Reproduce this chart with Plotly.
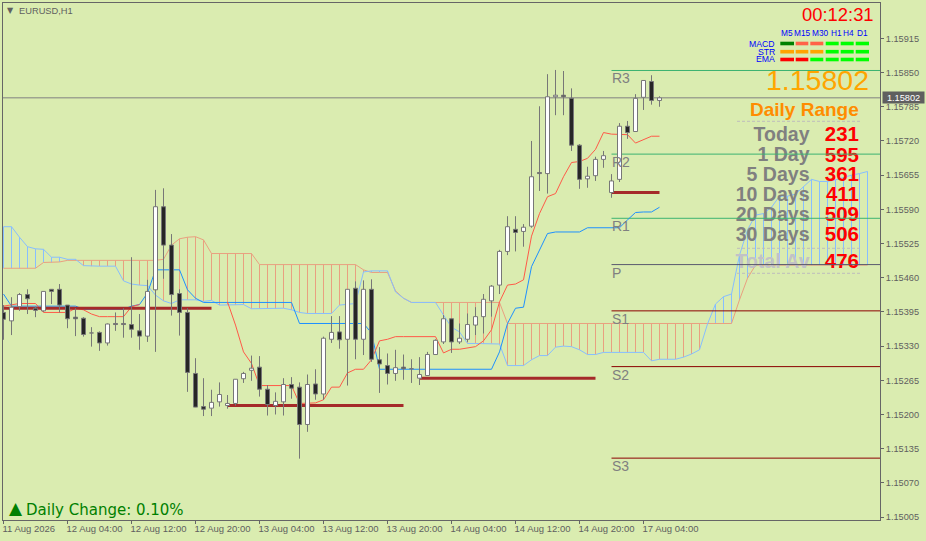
import plotly.graph_objects as go

W, H = 926, 541
ML, MR, MT, MB = 3, 46, 3, 21
BG = "#DAECB0"
AXC = "#666666"
SCALE = 100000.0

open_pts = [115394,115378,115405,115428,115402,115397,115438,115438,115408,115385,115383,115355,115356,115336,115373,115373,115371,115359,115349,115437,115595,115522,115430,115394,115278,115215,115212,115224,115217,115221,115268,115284,115290,115248,115217,115224,115257,115252,115181,115258,115239,115343,115357,115343,115440,115343,115438,115304,115293,115278,115290,115287,115269,115274,115314,115338,115382,115338,115343,115370,115386,115416,115446,115510,115552,115548,115558,115660,115658,115804,115807,115801,115712,115648,115654,115685,115622,115647,115748,115738,115803,115833,115797]
high_pts = [115408,115423,115431,115438,115405,115434,115438,115448,115408,115402,115385,115366,115358,115373,115394,115402,115499,115391,115456,115627,115630,115543,115438,115402,115307,115269,115247,115261,115237,115267,115281,115312,115311,115256,115242,115269,115271,115261,115276,115286,115348,115387,115387,115438,115453,115455,115457,115328,115316,115323,115314,115305,115309,115319,115343,115389,115382,115373,115392,115404,115429,115446,115513,115577,115577,115562,115720,115786,115847,115855,115853,115820,115714,115671,115690,115701,115657,115754,115758,115809,115835,115845,115805]
low_pts = [115342,115351,115397,115391,115385,115395,115410,115394,115364,115349,115348,115329,115321,115331,115359,115346,115346,115323,115338,115319,115458,115388,115350,115243,115214,115197,115197,115215,115211,115217,115260,115264,115234,115198,115200,115198,115230,115116,115167,115228,115228,115336,115325,115255,115305,115313,115300,115241,115257,115264,115266,115260,115256,115274,115314,115334,115317,115334,115338,115351,115354,115386,115429,115503,115510,115519,115555,115625,115620,115769,115769,115701,115629,115631,115644,115669,115612,115642,115724,115738,115779,115789,115785]
close_pts = [115381,115404,115428,115420,115398,115434,115434,115408,115382,115382,115352,115354,115336,115372,115371,115371,115362,115349,115434,115595,115522,115428,115394,115280,115214,115210,115223,115238,115221,115267,115278,115288,115248,115219,115225,115257,115250,115181,115257,115239,115345,115356,115342,115438,115343,115438,115305,115296,115278,115289,115287,115286,115276,115314,115341,115382,115338,115345,115371,115386,115419,115444,115510,115557,115546,115556,115652,115658,115804,115807,115804,115712,115647,115653,115685,115692,115644,115748,115736,115801,115835,115797,115802]

tenkan_pts = [115406,115408,115411,115411,115411,115394,115394,115394,115394,115402,115399,115391,115386,115386,115386,115386,115405,115409,
              None,None,None,None,None,None,None,None,None,None,
              115414,115370,115319,115297,115255,115255,115255,115255,115255,115221,115222,115222,115228,115252,115252,115279,115286,115286,115304,115340,115343,115348,115348,115348,115348,115348,115348,115317,115324,115324,115326,115329,115340,115361,115414,115446,115448,115456,115539,115582,115614,115620,115652,115679,115681,115687,115704,115736,115733,115732,115732,115716,115723,115729,115729]
kijun_pts = [115429,115406,115406,115406,115406,115406,115406,115406,115406,115406,115400,115400,115400,115400,115400,115400,115406,115409,115431,115475,115475,115475,115475,115437,115421,115413,115413,115413,115413,115413,115413,115413,115413,115413,115413,115413,115413,115373,115373,115373,115373,115373,115373,115373,115373,115373,115355,115286,115286,115286,115286,115286,115286,115286,115286,115286,115286,115286,115286,115286,115286,115286,115319,115373,115402,115404,115481,115513,115544,115547,115547,115547,115547,115555,115555,115555,115555,115555,115570,115584,115585,115585,115594]
senkou_a_pts = [115478,115478,115478,115478,115478,115489,115489,115490,115493,115493,115493,115493,115493,115493,115493,115493,115493,115493,115493,115493,115495,115522,115534,115537,115538,115532,115506,115506,115506,115506,115506,115506,115485,115485,115485,115485,115485,115485,115485,115485,115485,115485,115485,115485,115485,115475,115470,115470,115470,115435,115421,115413,115413,115413,115413,115413,115413,115413,115413,115413,115413,115413,115413,115373,115373,115373,115373,115373,115373,115373,115373,115373,115373,115373,115373,115373,115373,115373,115373,115373,115373,115373,115373,115373,115373,115373,115373,115373,115373,115373,115373,115373,115418,115459,115484,115484,115484,115484,115484,115484,115484,115484,115484,115484,115484,115484,115484,115484,115484]
senkou_b_pts = [115557,115557,115537,115519,115515,115514,115499,115499,115495,115495,115483,115482,115482,115482,115482,115454,115448,115446,115445,115427,115416,115411,115418,115418,115418,115415,115417,115408,115408,115408,115409,115401,115401,115401,115401,115402,115399,115394,115392,115392,115392,115392,115408,115410,115411,115471,115473,115473,115473,115433,115421,115413,115413,115413,115413,115389,115366,115357,115335,115335,115335,115335,115334,115293,115293,115293,115304,115312,115312,115328,115330,115329,115323,115314,115314,115318,115318,115318,115318,115318,115318,115302,115305,115305,115305,115309,115315,115323,115372,115410,115424,115429,115503,115551,115579,115582,115594,115615,115615,115619,115633,115647,115643,115643,115646,115651,115655,115658,115662]

pivot_names = ["R3", "R2", "R1", "P", "S1", "S2", "S3"]
pivot_pts = [115854, 115695, 115573, 115485, 115397, 115291, 115117]
pivot_colors = ["#3CB371", "#3CB371", "#3CB371", "#5A5A6E", "#8B0000", "#8B0000", "#8B0000"]
PIVOT_FROM_BAR = 76

day_open_pts = [115402, 115217, 115269, 115622]
day_open_from = [0, 28, 52, 76]
day_open_to = [26, 50, 74, 82]

LAST_PRICE = 115802

price_ticks = [115915,115850,115785,115720,115655,115590,115525,115460,115395,115330,115265,115200,115135,115070,115005]
time_tick_bars = [0,8,16,24,32,40,48,56,64,72,80]
time_tick_labels = ["11 Aug 2026","12 Aug 04:00","12 Aug 12:00","12 Aug 20:00","13 Aug 04:00","13 Aug 12:00","13 Aug 20:00","14 Aug 04:00","14 Aug 12:00","14 Aug 20:00","17 Aug 04:00"]

range_names = ["Today", "1 Day", "5 Days", "10 Days", "20 Days", "30 Days", "Total Av"]
range_values = [231, 595, 361, 411, 509, 506, 476]

tf_names = ["M5", "M15", "M30", "H1", "H4", "D1"]
row_names = ["MACD", "STR", "EMA"]
row_colors = [
    ["#008000", "#FF6347", "#FF6347", "#00FF00", "#00FF00", "#00FF00"],
    ["#FFA500", "#FFA500", "#FFA500", "#00FF00", "#00FF00", "#00FF00"],
    ["#FF0000", "#FF0000", "#00FF00", "#00FF00", "#00FF00", "#00FF00"],
]


def p(v):
    return None if v is None else v / SCALE


# pixel helpers, for the on-chart panels only
PW, PH = W - ML - MR, H - MT - MB
XR = [-0.0625, 109.5625]
YR = [1.149994, 1.159823]
def paperx(x):
    return (x - ML) / PW
def papery(y):
    return 1 - (y - MT) / PH
def barx(x):
    return XR[0] + (x - ML) / PW * (XR[1] - XR[0])
def pricey(y):
    return YR[1] - (y - MT) / PH * (YR[1] - YR[0])


n_cloud = len(senkou_a_pts)
cloud_x = list(range(n_cloud))
fig = go.Figure()

# cloud hatching
for upper_is_a, col in ((True, "#E9A080"), (False, "#87BEFF")):
    hx, hy = [], []
    for i in cloud_x:
        a, b = senkou_a_pts[i], senkou_b_pts[i]
        if (a >= b) == upper_is_a:
            hx += [i, i, None]
            hy += [p(a), p(b), None]
    fig.add_trace(go.Scatter(x=hx, y=hy, mode="lines", line=dict(color=col, width=1), hoverinfo="skip", showlegend=False))

fig.add_trace(go.Scatter(x=cloud_x, y=[p(v) for v in senkou_a_pts], mode="lines", line=dict(color="#E9A080", width=1), showlegend=False, name="Senkou A"))
fig.add_trace(go.Scatter(x=cloud_x, y=[p(v) for v in senkou_b_pts], mode="lines", line=dict(color="#87BEFF", width=1), showlegend=False, name="Senkou B"))

# daily range table (under the pivot lines, as in the reference)
label_y = [136.3, 156.5, 176, 196, 216, 236, 263]
label_col = ["#808080"] * 6 + ["#C2C2C6"]
fig.add_trace(go.Scatter(x=[barx(809.5)] * 7, y=[pricey(v) for v in label_y], mode="text", text=range_names,
                         textposition="middle left",
                         textfont=dict(family="Liberation Sans", size=19.5, color=label_col, weight="bold"),
                         hoverinfo="skip", showlegend=False))
fig.add_trace(go.Scatter(x=[barx(859)] * 7, y=[pricey(v) for v in label_y], mode="text", text=[str(v) for v in range_values],
                         textposition="middle left",
                         textfont=dict(family="Liberation Sans", size=20.5, color="#FF0000", weight="bold"),
                         hoverinfo="skip", showlegend=False))

# pivots
for lvl, col in zip(pivot_pts, pivot_colors):
    fig.add_trace(go.Scatter(x=[PIVOT_FROM_BAR, XR[1]], y=[p(lvl), p(lvl)], mode="lines", line=dict(color=col, width=1), hoverinfo="skip", showlegend=False))

# current price line
fig.add_trace(go.Scatter(x=XR, y=[p(LAST_PRICE), p(LAST_PRICE)], mode="lines", line=dict(color="#808080", width=1), hoverinfo="skip", showlegend=False))

# ichimoku fast lines
bars = list(range(len(open_pts)))
fig.add_trace(go.Scatter(x=bars, y=[p(v) for v in kijun_pts], mode="lines", line=dict(color="#1E90FF", width=1), showlegend=False, name="Kijun", connectgaps=False))
fig.add_trace(go.Scatter(x=bars, y=[p(v) for v in tenkan_pts], mode="lines", line=dict(color="#FF5A48", width=1), showlegend=False, name="Tenkan", connectgaps=False))

# daily open segments
for lvl, a, b in zip(day_open_pts, day_open_from, day_open_to):
    fig.add_trace(go.Scatter(x=[a, b], y=[p(lvl), p(lvl)], mode="lines", line=dict(color="#A52A2A", width=3), hoverinfo="skip", showlegend=False))

# candles: scatter traces, so that they sit above the indicator lines
wx, wy = [], []
for i in bars:
    wx += [i, i, None]
    wy += [p(high_pts[i]), p(low_pts[i]), None]
fig.add_trace(go.Scatter(x=wx, y=wy, mode="lines", line=dict(color="#777777", width=1), hoverinfo="skip", showlegend=False, name="Wicks"))
HALF = 0.25
for is_up, fillc in ((True, "#FFFFFF"), (False, "#262626")):
    bx, by = [], []
    for i in bars:
        o, c = open_pts[i], close_pts[i]
        if (c >= o) == is_up:
            bx += [i - HALF, i + HALF, i + HALF, i - HALF, i - HALF, None]
            by += [p(o), p(o), p(c), p(c), p(o), None]
    fig.add_trace(go.Scatter(x=bx, y=by, mode="lines", fill="toself", fillcolor=fillc, line=dict(color="#777777", width=1),
                             hoverinfo="skip", showlegend=False, name="Bull bodies" if is_up else "Bear bodies"))

anns = []
def text(x, y, s, size, color, anchor="left", family="Liberation Sans", weight=None, **kw):
    dx = {"left": -1, "right": 1, "center": 0}[anchor]
    anns.append(dict(xref="paper", yref="paper", x=paperx(x + dx), y=papery(y), text=s, showarrow=False, xanchor=anchor, yanchor="middle",
                     font=dict(family=family, size=size, color=color, weight=weight), borderpad=0, **kw))

text(6.5, 10.2, "▼", 8, "#606060", family="DejaVu Sans")
text(18.5, 10.5, "EURUSD,H1", 9.3, "#606060")
text(873.5, 15, "00:12:31", 18.4, "#FF0000", anchor="right")
tf_centers = [786.7, 802, 820, 836, 848.5, 862]
for name, cx in zip(tf_names, tf_centers):
    text(cx, 33, name, 8.3, "#0000FF", anchor="center")
row_y = [43.5, 51.7, 59.5]
cell_x0 = [780.3, 795.7, 810.3, 825.7, 840.7, 855.7]
cell_x1 = [794, 808.3, 823.3, 838.7, 853.7, 869]
shapes = []
for name, yy, cols in zip(row_names, row_y, row_colors):
    text(775, yy, name, 8.7, "#0000FF", anchor="right")
    for col, a, b in zip(cols, cell_x0, cell_x1):
        shapes.append(dict(type="rect", xref="paper", yref="paper", x0=paperx(a), x1=paperx(b), y0=papery(yy - 1.8), y1=papery(yy + 1.8),
                           fillcolor=col, line=dict(width=0)))
text(869, 80, f"{LAST_PRICE / SCALE:.5f}", 28.5, "#FFA500", anchor="right")
text(859, 109, "Daily Range", 19, "#FF8C00", anchor="right", weight="bold")
for yy in (121.3, 248.3, 273.3):
    shapes.append(dict(type="line", xref="paper", yref="paper", x0=paperx(737), x1=paperx(860), y0=papery(yy), y1=papery(yy),
                       line=dict(color="#BDBDBD", width=1, dash="3px,2px")))

for name, lvl in zip(pivot_names, pivot_pts):
    anns.append(dict(xref="x", yref="y", x=PIVOT_FROM_BAR, y=p(lvl), text=name, showarrow=False, xanchor="left", yanchor="middle", yshift=-8,
                     xshift=-0.5, font=dict(family="Liberation Sans", size=14, color="#808080"), borderpad=0))

text(9, 508, "▲", 17, "#008000", family="DejaVu Sans")
text(25.5, 510, "Daily Change: 0.10%", 15, "#008000", family="DejaVu Sans")

# last price tag on the scale
anns.append(dict(xref="paper", yref="paper", x=paperx(882), y=papery(97.3), text=f"{LAST_PRICE / SCALE:.5f}", showarrow=False, xanchor="left", yanchor="middle",
                 width=41, height=11, bgcolor="#5F5F5F", font=dict(family="Liberation Sans", size=9.2, color="#FFFFFF"), borderpad=0))

axis_font = dict(family="Liberation Sans", size=9.2, color="#5F5F5F")
time_font = dict(family="Liberation Sans", size=9.5, color="#5F5F5F")
fig.update_layout(
    width=W, height=H, margin=dict(l=ML, r=MR, t=MT, b=MB, pad=0),
    paper_bgcolor=BG, plot_bgcolor=BG, hovermode=False, dragmode=False, showlegend=False,
    annotations=anns, shapes=shapes,
    xaxis=dict(range=XR, tickmode="array", tickvals=time_tick_bars, ticktext=time_tick_labels, ticks="outside", ticklen=3, tickcolor=AXC, tickwidth=1,
               showline=True, linecolor=AXC, linewidth=1, mirror=True, showgrid=False, zeroline=False, tickfont=time_font,
               ticklabelposition="outside right", ticklabelshift=-2, tickangle=0, automargin=False, fixedrange=True),
    yaxis=dict(range=YR, side="right", tickmode="array", tickvals=[p(v) for v in price_ticks], ticktext=[f"{v / SCALE:.5f}" for v in price_ticks],
               ticks="outside", ticklen=3, tickcolor=AXC, tickwidth=1, showline=True, linecolor=AXC, linewidth=1, mirror=True,
               showgrid=False, zeroline=False, tickfont=axis_font, automargin=False, fixedrange=True),
)

fig.write_html("out.html", config={"displayModeBar": False, "responsive": False},
               post_script="document.body.style.margin='0';document.documentElement.style.overflow='hidden';document.body.style.background='%s';" % BG)
